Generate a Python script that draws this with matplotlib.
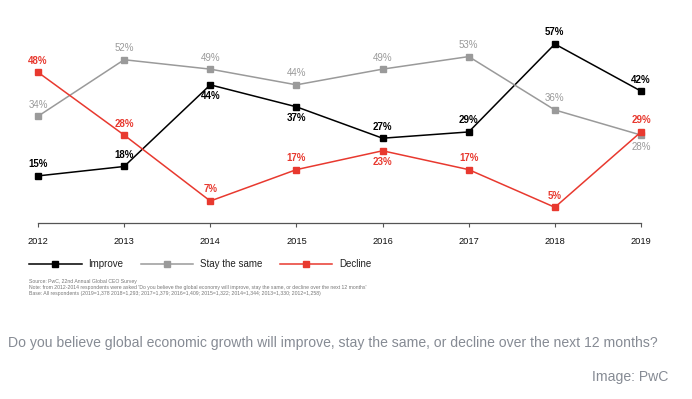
import matplotlib
matplotlib.use("Agg")
import matplotlib.pyplot as plt

plt.rcParams['font.family'] = ['Liberation Sans', 'DejaVu Sans']

years = [2012, 2013, 2014, 2015, 2016, 2017, 2018, 2019]
improve = [15, 18, 44, 37, 27, 29, 57, 42]
stay = [34, 52, 49, 44, 49, 53, 36, 28]
decline = [48, 28, 7, 17, 23, 17, 5, 29]
# +1 label above marker, -1 below
improve_pos = [1, 1, -1, -1, 1, 1, 1, 1]
stay_pos = [1, 1, 1, 1, 1, 1, 1, -1]
decline_pos = [1, 1, 1, 1, -1, 1, 1, 1]

series = [
    ("Improve", improve, improve_pos, "#000000", "bold"),
    ("Stay the same", stay, stay_pos, "#9a9a9a", "normal"),
    ("Decline", decline, decline_pos, "#e8392f", "bold"),
]

W, H = 692, 399
fig = plt.figure(figsize=(W / 100, H / 100), dpi=100)
y0_px, ytop_px = 223, 34.6
ax = fig.add_axes([38 / W, 1 - y0_px / H, (641 - 38) / W, (y0_px - ytop_px) / H])
ax.set_xlim(2012, 2019)
ax.set_ylim(0, 60)

for name, vals, pos, col, wt in series:
    ax.plot(years, vals, color=col, lw=1.1, marker='s', markersize=5,
            label=name, clip_on=False, zorder=3)
    for x, v, p in zip(years, vals, pos):
        ax.annotate(f"{v}%", (x, v), xytext=(0, 8.3 * p), textcoords='offset points',
                    ha='center', va='center', fontsize=7, color=col,
                    fontweight=wt, zorder=4)

for s in ['top', 'right', 'left']:
    ax.spines[s].set_visible(False)
ax.spines['bottom'].set_color('#555555')
ax.spines['bottom'].set_linewidth(0.9)
ax.set_yticks([])
ax.set_xticks(years)
ax.set_xticklabels([str(y) for y in years], fontsize=6.7, color='#111111')
ax.tick_params(axis='x', length=3, width=0.8, color='#555555', pad=7)

leg = fig.legend(loc='center left', bbox_to_anchor=(29 / W, 1 - 264 / H), ncol=3,
                 frameon=False, fontsize=7, handlelength=5.4, handletextpad=0.7,
                 columnspacing=1.8, borderpad=0, borderaxespad=0)
for t in leg.get_texts():
    t.set_color('#222222')

notes = [
    "Source: PwC, 22nd Annual Global CEO Survey",
    "Note: from 2012-2014 respondents were asked 'Do you believe the global economy will improve, stay the same, or decline over the next 12 months'",
    "Base: All respondents (2019=1,378 2018=1,293; 2017=1,379; 2016=1,409; 2015=1,322; 2014=1,344; 2013=1,330; 2012=1,258)",
]
for i, n in enumerate(notes):
    fig.text(29 / W, 1 - (282 + 5.8 * i) / H, n, fontsize=3.72, color='#777777',
             ha='left', va='center')

fig.text(8 / W, 1 - 343 / H,
         "Do you believe global economic growth will improve, stay the same, or decline over the next 12 months?",
         fontsize=10.1, color='#868b94', ha='left', va='center')
fig.text(668 / W, 1 - 377 / H, "Image: PwC", fontsize=10.1, color='#868b94',
         ha='right', va='center')

fig.savefig("out.png", dpi=100)
